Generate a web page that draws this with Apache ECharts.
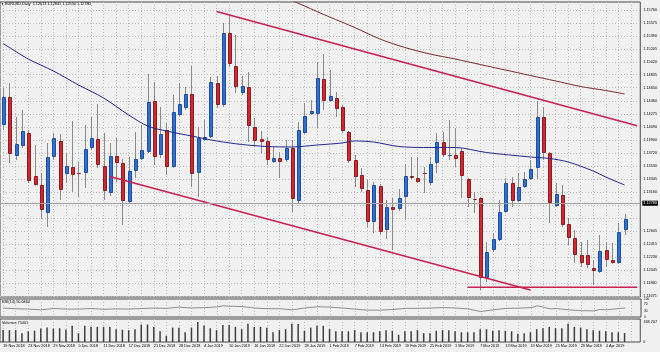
<!DOCTYPE html>
<html>
<head>
<meta charset="utf-8">
<title>EURUSD,Daily</title>
<script src="https://cdn.jsdelivr.net/npm/echarts@6/dist/echarts.min.js"></script>
<style>
html, body { margin: 0; padding: 0; background: #f0f0f0; }
#chart { width: 660px; height: 352px; }
</style>
</head>
<body>
<div id="chart"></div>
<script>
// trading days shown on the chart
var dates = [
    '19 Nov 2018','20 Nov 2018','21 Nov 2018','22 Nov 2018','23 Nov 2018','26 Nov 2018','27 Nov 2018','28 Nov 2018','29 Nov 2018','30 Nov 2018',
    '3 Dec 2018','4 Dec 2018','5 Dec 2018','6 Dec 2018','7 Dec 2018','10 Dec 2018','11 Dec 2018','12 Dec 2018','13 Dec 2018','14 Dec 2018',
    '17 Dec 2018','18 Dec 2018','19 Dec 2018','20 Dec 2018','21 Dec 2018','24 Dec 2018','26 Dec 2018','27 Dec 2018','28 Dec 2018','31 Dec 2018',
    '2 Jan 2019','3 Jan 2019','4 Jan 2019','7 Jan 2019','8 Jan 2019','9 Jan 2019','10 Jan 2019','11 Jan 2019','14 Jan 2019','15 Jan 2019',
    '16 Jan 2019','17 Jan 2019','18 Jan 2019','21 Jan 2019','22 Jan 2019','23 Jan 2019','24 Jan 2019','25 Jan 2019','28 Jan 2019','29 Jan 2019',
    '30 Jan 2019','31 Jan 2019','1 Feb 2019','4 Feb 2019','5 Feb 2019','6 Feb 2019','7 Feb 2019','8 Feb 2019','11 Feb 2019','12 Feb 2019',
    '13 Feb 2019','14 Feb 2019','15 Feb 2019','18 Feb 2019','19 Feb 2019','20 Feb 2019','21 Feb 2019','22 Feb 2019','25 Feb 2019','26 Feb 2019',
    '27 Feb 2019','28 Feb 2019','1 Mar 2019','4 Mar 2019','5 Mar 2019','6 Mar 2019','7 Mar 2019','8 Mar 2019','11 Mar 2019','12 Mar 2019',
    '13 Mar 2019','14 Mar 2019','15 Mar 2019','18 Mar 2019','19 Mar 2019','20 Mar 2019','21 Mar 2019','22 Mar 2019','25 Mar 2019','26 Mar 2019',
    '27 Mar 2019','28 Mar 2019','29 Mar 2019','1 Apr 2019','2 Apr 2019','3 Apr 2019','4 Apr 2019','5 Apr 2019','8 Apr 2019','9 Apr 2019'
];

// [open, close, low, high]
var candles = [
    [1.14117,1.14517,1.14046,1.14646],[1.14517,1.13703,1.13574,1.14717],[1.13674,1.13846,1.13617,1.14232],[1.13817,1.14031,1.13789,1.14332],
    [1.14003,1.13317,1.13289,1.14046],[1.13389,1.13260,1.13246,1.13831],[1.13260,1.12903,1.12774,1.13432],[1.12860,1.13660,1.12660,1.13860],
    [1.13660,1.13931,1.13617,1.14003],[1.13889,1.13189,1.13046,1.13989],[1.13417,1.13531,1.13289,1.13717],[1.13517,1.13403,1.13160,1.14174],
    [1.13432,1.13425,1.13089,1.13589],[1.13432,1.13774,1.13217,1.14117],[1.13789,1.13931,1.13760,1.14232],[1.13917,1.13546,1.13503,1.14417],
    [1.13531,1.13174,1.13046,1.14003],[1.13146,1.13674,1.13103,1.13860],[1.13674,1.13574,1.13303,1.13931],[1.13574,1.13032,1.12689,1.13631],
    [1.13017,1.13460,1.13003,1.13660],[1.13460,1.13631,1.13360,1.14017],[1.13631,1.13760,1.13617,1.14117],[1.13731,1.14446,1.13717,1.14846],
    [1.14460,1.13660,1.13546,1.14731],[1.13689,1.13989,1.13646,1.14374],[1.14046,1.13517,1.13403,1.14146],[1.13517,1.14303,1.13503,1.14546],
    [1.14260,1.14417,1.14246,1.14717],[1.14360,1.14560,1.14332,1.14660],[1.14560,1.13417,1.13232,1.14960],[1.13432,1.13931,1.13089,1.14089],
    [1.13903,1.13946,1.13889,1.14189],[1.13946,1.14731,1.13931,1.14803],[1.14717,1.14403,1.14360,1.14817],[1.14403,1.15431,1.14374,1.15574],
    [1.15431,1.14989,1.14946,1.15689],[1.14960,1.14660,1.14574,1.15403],[1.14574,1.14674,1.14546,1.14817],[1.14660,1.14103,1.13874,1.14874],
    [1.14089,1.13889,1.13803,1.14217],[1.13917,1.13874,1.13717,1.14031],[1.13889,1.13617,1.13546,1.13946],[1.13589,1.13646,1.13574,1.13803],
    [1.13646,1.13589,1.13360,1.13731],[1.13617,1.13789,1.13589,1.13903],[1.13789,1.13060,1.12874,1.13903],[1.13032,1.14046,1.13003,1.14160],
    [1.14003,1.14246,1.13989,1.14432],[1.14274,1.14317,1.14260,1.14474],[1.14274,1.14789,1.14074,1.15017],[1.14774,1.14460,1.14332,1.15131],
    [1.14460,1.14531,1.14446,1.14903],[1.14503,1.14346,1.14232,1.14589],[1.14374,1.14031,1.14003,1.14403],[1.14017,1.13603,1.13574,1.14031],
    [1.13617,1.13374,1.13232,1.13689],[1.13403,1.13203,1.13160,1.13503],[1.13189,1.12732,1.12660,1.13332],[1.12732,1.13260,1.12574,1.13303],
    [1.13246,1.12589,1.12546,1.13274],[1.12617,1.12946,1.12489,1.13046],[1.12946,1.12903,1.12331,1.13074],[1.12917,1.13074,1.12889,1.13203],
    [1.13089,1.13389,1.12760,1.13560],[1.13389,1.13360,1.13346,1.13660],[1.13360,1.13303,1.13289,1.13660],[1.13432,1.13425,1.13146,1.13517],
    [1.13289,1.13560,1.13260,1.13660],[1.13574,1.13874,1.13432,1.14003],[1.13874,1.13689,1.13660,1.14017],[1.13674,1.13689,1.13617,1.14189],
    [1.13689,1.13631,1.13517,1.14074],[1.13746,1.13389,1.13074,1.13789],[1.13346,1.13074,1.12946,1.13360],[1.13060,1.13053,1.12860,1.13160],
    [1.13074,1.11931,1.11760,1.13089],[1.11931,1.12303,1.11874,1.12446],[1.12331,1.12489,1.12303,1.12574],[1.12474,1.12874,1.12460,1.13046],
    [1.12874,1.13289,1.12860,1.13360],[1.13289,1.13032,1.12946,1.13374],[1.13032,1.13232,1.13017,1.13432],[1.13232,1.13346,1.13217,1.13446],
    [1.13346,1.13489,1.13332,1.13617],[1.13503,1.14232,1.13346,1.14460],[1.14232,1.13717,1.13617,1.14374],[1.13717,1.13003,1.12717,1.13731],
    [1.12960,1.13131,1.12946,1.13289],[1.13117,1.12689,1.12660,1.13260],[1.12703,1.12503,1.12403,1.12789],[1.12503,1.12260,1.12146,1.12617],
    [1.12260,1.12146,1.12089,1.12446],[1.12260,1.12117,1.12074,1.12474],[1.12074,1.12031,1.11832,1.12189],[1.12017,1.12317,1.12003,1.12546],
    [1.12331,1.12189,1.12089,1.12446],[1.12189,1.12146,1.12132,1.12432],[1.12146,1.12589,1.12132,1.12717],[1.12613,1.12780,1.12550,1.12841]
];

var volumes = [
    100300,99800,100500,74200,90100,95300,113200,121400,112800,116300,106100,137200,73900,136800,129300,126900,127400,126600,108200,103100,
    99700,108400,148300,147600,127100,90300,52800,121200,120600,81900,121500,168707,139800,116400,100200,143100,142600,127300,108100,153200,
    126800,127200,121100,82300,100100,107900,153400,152800,95200,121300,137100,136600,108300,90200,89800,90400,100300,81800,82200,81900,
    90100,99900,95100,60800,90300,89700,100200,73800,74100,94900,100400,99600,90200,82100,81700,82400,108100,107800,95300,100100,
    94800,90300,68900,74200,82100,108300,116200,127100,116400,115800,152900,127300,121100,108200,99800,95100,89900,82200,81800,75401
];

// [bar index, value]
var rsiPoints = [
    [0,50],[2,46],[4,44],[6,40],[8,47],[10,44],[12,44],[14,47],[16,43],[18,45],[20,44],[22,47],[24,50],[26,48],
    [28,55],[30,50],[32,52],[34,56],[35,62],[36,60],[38,58],[40,50],[42,46],[44,46],[46,40],[48,50],[50,57],[52,55],
    [54,50],[56,44],[58,38],[60,38],[62,42],[64,48],[66,48],[68,50],[70,52],[72,50],[74,45],[76,30],[78,40],[80,48],
    [82,49],[84,52],[85,62],[86,55],[87,45],[88,47],[90,40],[92,35],[94,34],[95,42],[96,40],[98,47],[99,50.046]
];
var maBlue = [
    [0,1.15281],[4,1.15060],[8,1.14889],[12,1.14689],[16,1.14503],[20,1.14260],[23,1.14103],[26,1.14031],[30,1.13960],
    [34,1.13889],[38,1.13839],[42,1.13810],[46,1.13803],[50,1.13831],[54,1.13860],[56,1.13889],[59,1.13874],[63,1.13810],
    [67,1.13796],[72,1.13796],[77,1.13724],[84,1.13660],[87,1.13639],[90,1.13589],[94,1.13460],[96,1.13374],[99,1.13260]
];
var maBrown = [
    [44,1.15974],[48,1.15817],[52,1.15660],[56,1.15510],[60,1.15346],[64,1.15224],[68,1.15131],[72,1.15060],
    [76,1.14981],[80,1.14903],[84,1.14824],[88,1.14746],[92,1.14667],[96,1.14610],[99,1.14560]
];
var upperTrend = [[34,1.15737],[101,1.14107]];
var lowerTrend = [[17,1.13381],[84,1.11760]];
var supportLine = [[74,1.11799],[101,1.11799]];

// price scale marks
var priceGrid = [1.15760,1.15575,1.15390,1.15205,1.15020,1.14835,1.14650,1.14460,1.14275,1.14090,1.13900,1.13720,
    1.13530,1.13345,1.13160,1.12975,1.12790,1.12605,1.12415,1.12230,1.12045,1.11860,1.11675];
var priceLabels = priceGrid.filter(function(v){ return v !== 1.12790; });
var rsiTicks = [0,30,70,100];
var volTicks = [0,168707];

var axisCats = dates.concat(['','']);
var last = candles[candles.length - 1];
var gridCols = [];
for (var g = 0; g <= 100; g += 2) gridCols.push(g);

var FONT = 'Liberation Sans';
var SMALL = 3.8;
var UP = '#2f6fd0', UP_EDGE = '#1d4f9e', DOWN = '#cc2a30', DOWN_EDGE = '#8e1b20';
var TREND = '#c8204f';

function renderCandle(params, api) {
    var i = api.value(0);
    var o = api.value(1), c = api.value(2), lo = api.value(3), hi = api.value(4);
    var pH = api.coord([i, hi]), pL = api.coord([i, lo]);
    var pO = api.coord([i, o]), pC = api.coord([i, c]);
    var cx = Math.round(pH[0]);
    var y1 = Math.round(Math.min(pO[1], pC[1]));
    var y2 = Math.round(Math.max(pO[1], pC[1]));
    var up = c >= o;
    return {
        type: 'group',
        children: [{
            type: 'line',
            shape: { x1: cx + 0.5, y1: Math.round(pH[1]), x2: cx + 0.5, y2: Math.round(pL[1]) },
            style: { stroke: '#8a8a8a', lineWidth: 1 }
        }, {
            type: 'rect',
            shape: { x: cx - 0.5, y: y1 + 0.5, width: 3, height: Math.max(0, y2 - y1 - 1) },
            style: { fill: up ? UP : DOWN, stroke: up ? UP_EDGE : DOWN_EDGE, lineWidth: 1 }
        }]
    };
}

function gridLines(gridIndex) {
    return {
        type: 'value', gridIndex: gridIndex, position: 'top', min: -0.5, max: 101.5,
        axisLine: { show: false }, axisLabel: { show: false },
        axisTick: { show: false, customValues: gridCols },
        splitLine: { show: true, lineStyle: { color: '#bdbdbd', type: [1, 2] } }
    };
}

function catAxis(gridIndex, withLabels) {
    return {
        type: 'category', gridIndex: gridIndex, data: axisCats, boundaryGap: true, position: 'bottom',
        axisLine: { show: false }, axisTick: { show: false }, splitLine: { show: false },
        axisLabel: {
            show: withLabels, interval: 3, align: 'left', margin: 2,
            fontSize: SMALL, color: '#000', fontFamily: FONT
        }
    };
}

var border = { show: true, borderColor: '#4a4a4a', borderWidth: 1, backgroundColor: 'transparent' };

var option = {
    backgroundColor: '#f0f0f0',
    animation: false,
    textStyle: { fontFamily: FONT },
    title: [{
        text: '{i|\u25BC} EURUSD,Daily  ' + last[0].toFixed(5) + ' ' + last[3].toFixed(5) + ' ' + last[2].toFixed(5) + ' ' + last[1].toFixed(5),
        left: 1, top: 2, padding: 0,
        textStyle: { fontSize: SMALL, fontWeight: 'normal', color: '#000', rich: { i: { fontSize: 3, color: '#000' } } }
    }, {
        text: 'RSI(14) ' + rsiPoints[rsiPoints.length - 1][1].toFixed(4),
        left: 2, top: 300, padding: 0,
        textStyle: { fontSize: SMALL, fontWeight: 'normal', color: '#000' }
    }, {
        text: 'Volumes ' + volumes[volumes.length - 1],
        left: 2, top: 320.5, padding: 0,
        textStyle: { fontSize: SMALL, fontWeight: 'normal', color: '#000' }
    }],
    grid: [
        Object.assign({ left: -2, top: 2, width: 643, height: 295 }, border),
        Object.assign({ left: -2, top: 299, width: 643, height: 18 }, border),
        Object.assign({ left: -2, top: 319, width: 643, height: 23 }, border)
    ],
    xAxis: [
        catAxis(0, false), gridLines(0),
        catAxis(1, false), gridLines(1),
        catAxis(2, true), gridLines(2)
    ],
    yAxis: [{
        type: 'value', gridIndex: 0, position: 'right', min: 1.1166, max: 1.15874,
        axisLine: { show: false },
        axisTick: { show: false, customValues: priceGrid },
        axisLabel: {
            customValues: priceLabels, margin: 3, fontSize: SMALL, color: '#000',
            formatter: function(v){ return v.toFixed(5); }
        },
        splitLine: { show: true, lineStyle: { color: '#bdbdbd', type: [1, 2] } }
    }, {
        type: 'value', gridIndex: 1, position: 'right', min: 0, max: 100,
        axisLine: { show: false }, axisTick: { show: false }, splitLine: { show: false },
        axisLabel: { customValues: rsiTicks, margin: 3, fontSize: 3.2, color: '#000' }
    }, {
        type: 'value', gridIndex: 2, position: 'right', min: 0, max: 194013,
        axisLine: { show: false }, axisTick: { show: false }, splitLine: { show: false },
        axisLabel: { customValues: volTicks, margin: 3, fontSize: SMALL, color: '#000' }
    }],
    series: [{
        name: 'Bid',
        type: 'line', xAxisIndex: 0, yAxisIndex: 0, z: 1,
        data: [[candles.length - 1, last[1]]],
        showSymbol: false, symbol: 'none', lineStyle: { opacity: 0 },
        markLine: {
            silent: true, symbol: 'none', animation: false,
            lineStyle: { color: '#a0a0a0', type: 'solid', width: 1 },
            label: {
                position: 'end', distance: 2, fontSize: SMALL, color: '#fff',
                backgroundColor: '#000', padding: [1, 1, 0, 1],
                formatter: function(){ return last[1].toFixed(5); }
            },
            data: [{ yAxis: last[1] }]
        }
    }, {
        name: 'EURUSD',
        type: 'custom', xAxisIndex: 0, yAxisIndex: 0, z: 2, clip: true,
        renderItem: renderCandle,
        encode: { x: 0, y: [1, 2, 3, 4] },
        data: candles.map(function(d, i){ return [i, d[0], d[1], d[2], d[3]]; })
    }, {
        name: 'MA slow',
        type: 'line', xAxisIndex: 0, yAxisIndex: 0, z: 3, smooth: 0.3, symbol: 'none',
        lineStyle: { color: '#7a2a2a', width: 1 },
        data: maBrown
    }, {
        name: 'MA',
        type: 'line', xAxisIndex: 0, yAxisIndex: 0, z: 3, smooth: 0.3, symbol: 'none',
        lineStyle: { color: '#23268f', width: 1 },
        data: maBlue
    }, {
        name: 'upper',
        type: 'line', xAxisIndex: 0, yAxisIndex: 0, z: 3, symbol: 'none',
        lineStyle: { color: TREND, width: 1.5 }, data: upperTrend
    }, {
        name: 'lower',
        type: 'line', xAxisIndex: 0, yAxisIndex: 0, z: 3, symbol: 'none',
        lineStyle: { color: TREND, width: 1.5 }, data: lowerTrend
    }, {
        name: 'support',
        type: 'line', xAxisIndex: 0, yAxisIndex: 0, z: 3, symbol: 'none',
        lineStyle: { color: TREND, width: 1.5 }, data: supportLine
    }, {
        name: 'RSI',
        type: 'line', xAxisIndex: 2, yAxisIndex: 1, symbol: 'none',
        lineStyle: { color: '#8c8c8c', width: 1 }, data: rsiPoints
    }, {
        name: 'Volumes',
        type: 'bar', xAxisIndex: 4, yAxisIndex: 2, barWidth: 1.5,
        itemStyle: { color: '#3e3e3e' }, data: volumes
    }]
};

var chart = echarts.init(document.getElementById('chart'));
chart.setOption(option);
</script>
</body>
</html>
